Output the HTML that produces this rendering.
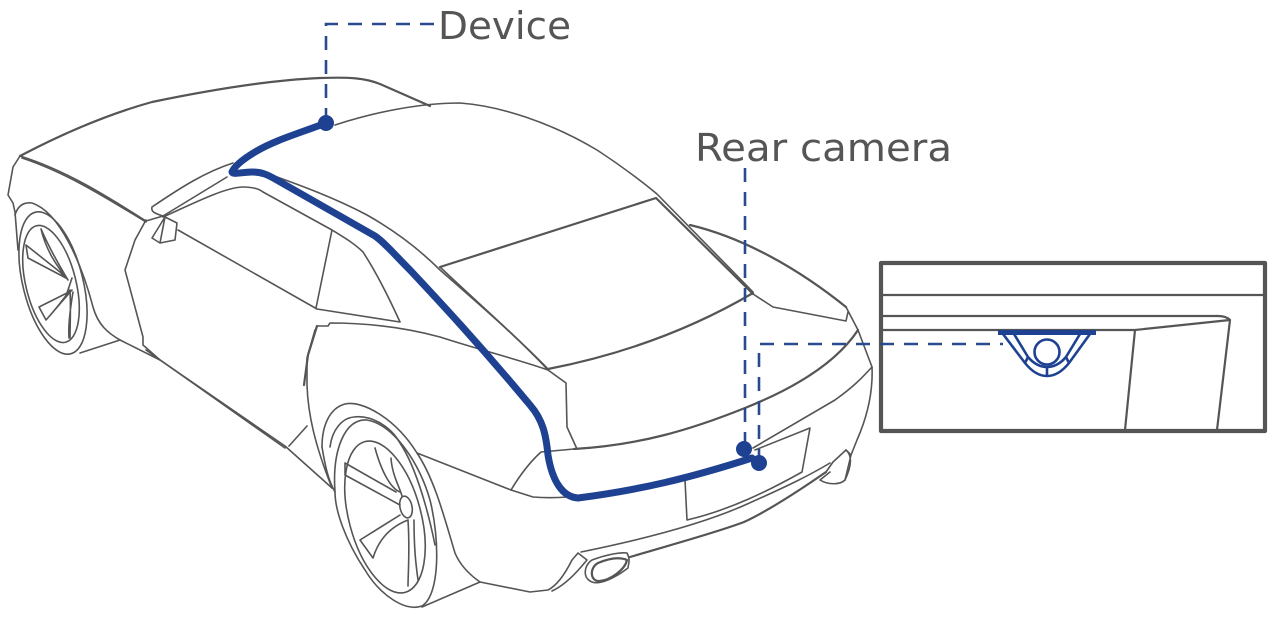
<!DOCTYPE html>
<html><head><meta charset="utf-8"><style>
html,body{margin:0;padding:0;background:#fff}
svg{display:block}
.c{fill:none;stroke:#555;stroke-width:1.6;stroke-linejoin:round;stroke-linecap:round}
.t{stroke-width:2.2}
.d{fill:none;stroke:#2a4a8f;stroke-width:2.6;stroke-dasharray:14 10}
.b{fill:none;stroke:#1e4291;stroke-width:2.6}
text{font-family:"DejaVu Sans","Liberation Sans",sans-serif;fill:#555;font-size:38px}
</style></head><body>
<svg width="1278" height="622" viewBox="0 0 1278 622" xmlns="http://www.w3.org/2000/svg">
<g class="c">
<!-- roof and hood -->
<path class="t" d="M20 156C60 135 105 115 152 102C210 90 270 80 320 78C350 77 365 78 380 84L430 106"/>
<path d="M335 125C375 112 420 103 460 103C500 106 550 122 597 150C620 165 640 180 657 194L753 292"/>
<path d="M20 156C65 170 105 195 146 221"/><path d="M22 158C65 172 105 197 146 222"/>
<path d="M20 156L13 167L8 195L13 203L15 212L18 250"/>
<!-- front arch and wheel -->
<path d="M15 215C18 205 24 202 32 203C60 212 82 265 93 307C98 325 108 333 120 340L160 360"/>
<ellipse cx="53" cy="283" rx="30" ry="73" transform="rotate(-14 53 283)"/>
<ellipse cx="51" cy="284" rx="25" ry="60" transform="rotate(-14 51 284)"/>
<path d="M80 353L120 340"/>
<path d="M41 229C46 250 56 265 68 280C62 270 50 250 41 229M26 245L28 258L66 278L60 272ZM72 278L67 293L39 307L46 320L72 290M70 290C63 300 55 310 46 320M70 290C71 310 70 325 70 338M73 292C70 310 68 325 69 338"/>
<!-- side body -->
<path d="M146 220L135 240L125 270L143 337L143 345L160 360L285 446L332 488"/>
<path d="M146 350L285 448"/>
<path d="M146 221L163 216"/>
<path d="M152 207C180 188 205 172 233 163M152 207C151 211 153 213 163 216L227 177"/>
<path d="M163 217C190 205 225 187 243 187C250 187 258 188 263 192L332 230C345 238 355 244 363 252C378 275 390 300 400 322L317 309L178 230"/>
<path d="M332 230L316 308"/>
<path d="M152 238L165 217L177 223L175 240L160 243ZM165 217L160 243"/>
<path d="M263 172C300 185 335 198 367 215C390 228 415 245 440 270C480 305 515 335 548 370"/>
<path d="M317 326H328L330 323C360 323 400 326 440 337C480 350 520 360 548 370"/>
<path class="t" d="M317 326L308 355L304 385"/><path d="M315 330L307 358L307 385C308 415 315 445 332 488"/>
<path d="M289 446L307 426"/>
<!-- rear window -->
<path class="t" d="M440 267L656 198L753 294"/>
<path d="M440 267C480 305 515 335 548 369"/>
<path class="t" d="M548 369C620 355 690 330 753 293"/>
<path d="M753 294L773 307L846 321L848 312"/>
<path class="t" d="M690 225C745 238 800 270 846 307"/>
<path d="M846 307L858 330L872 367C873 390 868 415 857 440L851 455"/>
<path d="M548 370L566 383L567 427L577 449"/>
<path class="t" d="M574 449C640 445 690 430 745 408C790 390 835 365 858 330"/>
<path d="M872 367C860 380 853 387 835 400L753 448"/>
<!-- plate -->
<path d="M685 480L687 520C730 510 770 490 802 472L810 428L755 450"/>
<!-- rear wheel -->
<path d="M322 447C322 425 330 408 345 404C362 400 395 418 417 453C435 480 445 520 455 553C460 565 470 575 480 582L530 592L548 590C558 585 566 572 572 560L578 553L587 560L581 567C575 574 565 585 552 591"/>
<path d="M322 447C325 465 328 480 335 492"/>
<path d="M330 447C332 430 342 418 354 417C370 415 390 425 400 443C418 470 430 520 435 545"/>
<path d="M335 492C332 450 345 418 367 420C395 425 420 465 430 500C440 540 440 595 422 606C405 612 380 595 365 570C345 540 335 510 335 492Z"/>
<ellipse cx="385" cy="517" rx="36" ry="78" transform="rotate(-15 385 517)"/>
<ellipse cx="406" cy="507" rx="6" ry="11" transform="rotate(-12 406 507)"/>
<path d="M422 607L480 582"/>
<path d="M375 448C381 470 390 488 400 492M391 458C392 475 400 488 402 496M345 463L396 492M345 475L400 505M345 463L345 475M360 540L400 515M360 540L373 558C380 535 395 525 408 520M408 520C410 550 408 575 408 586M414 520C414 550 416 565 418 580"/>
<!-- rear bumper -->
<path d="M417 453L511 490L533 497C545 498 555 498 567 497"/>
<path d="M511 490C520 475 530 462 541 452L574 449"/>
<path d="M581 552C640 540 700 525 745 505C790 485 810 475 830 463"/>
<path class="t" d="M630 557C670 545 715 533 744 522C770 510 800 490 826 472"/>
<path d="M826 472L833 462L846 450L851 455L845 480C840 485 828 485 820 480L830 472"/>
<path d="M846 450C852 455 852 465 845 480"/>
<path d="M592 560C605 555 620 552 627 553C631 560 628 565 628 568C615 578 600 585 592 582C582 578 584 565 592 560Z"/>
<path class="t" d="M598 563C610 558 620 557 627 560C625 570 610 580 600 581C590 582 589 568 598 563Z"/>
<!-- inset -->
<rect x="881" y="263" width="384" height="168" style="stroke-width:4.2"/>
<path class="t" d="M881 295H1265"/>
<path class="t" d="M881 316H1218C1224 316 1228 318 1230 320L1217 430"/>
<path class="t" d="M881 330H1135L1230 320M1135 330L1125 430"/>
</g>
<!-- inset camera -->
<rect x="998" y="330" width="98" height="5" fill="#1e4291"/>
<path class="b" d="M1003 334L1025 363C1033 373 1040 376 1047 376C1054 376 1061 373 1069 363L1090 334"/>
<path class="b" d="M1014 334L1028 357C1034 364 1040 367 1047 367C1054 367 1060 364 1066 357L1080 334"/>
<path class="b" d="M1047 367V376M1025 363L1028 357M1069 363L1066 357"/>
<circle cx="1047" cy="352" r="12.5" class="b"/>
<!-- leaders -->
<path class="d" d="M326 122V24H436"/>
<path class="d" d="M745 168V448"/>
<path class="d" d="M759 463V344H1003"/>
<!-- cable -->
<path d="M326 123C300 133 275 140 255 152C245 158 235 165 232 172C233 175 242 172 252 172C262 172 268 175 275 179L375 236C385 243 395 255 410 270C440 302 480 345 530 405C543 420 546 435 548 455C552 480 562 497 578 498C640 490 690 478 752 458" fill="none" stroke="#1e4291" stroke-width="7" stroke-linecap="round" stroke-linejoin="round"/>
<circle cx="326" cy="123" r="8" fill="#1e4291"/>
<circle cx="744" cy="449" r="8" fill="#1e4291"/>
<circle cx="759" cy="463" r="8" fill="#1e4291"/>
<!-- labels -->
<text x="438" y="39" textLength="133" lengthAdjust="spacingAndGlyphs">Device</text>
<text x="695" y="161" textLength="257" lengthAdjust="spacingAndGlyphs">Rear camera</text>
</svg>
</body></html>
